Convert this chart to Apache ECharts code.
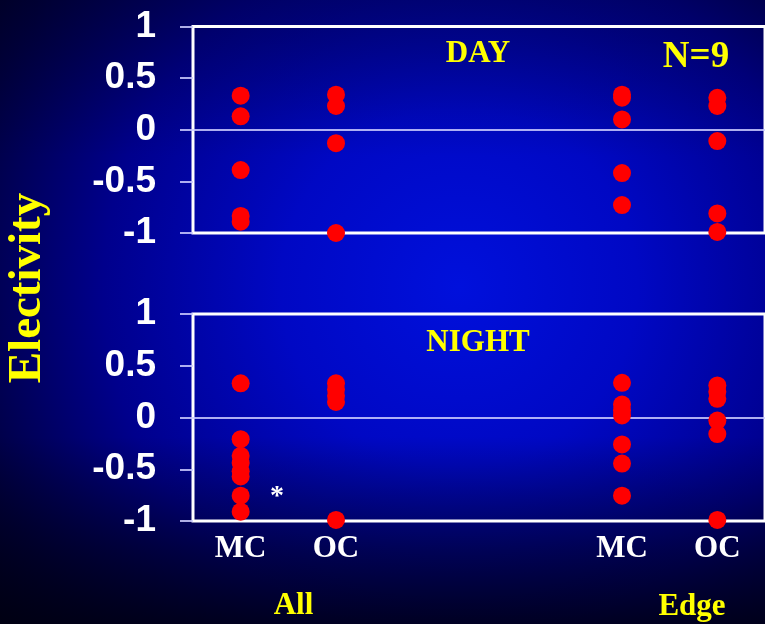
<!DOCTYPE html>
<html>
<head>
<meta charset="utf-8">
<script src="https://cdn.jsdelivr.net/npm/echarts@6/dist/echarts.min.js"></script>
<style>html,body{margin:0;padding:0;background:#000020;}#c{width:765px;height:624px;}</style>
</head>
<body>
<div id="c"></div>
<script>
// Categories along x (two blank slots separate the "All" and "Edge" groups)
const categories = ['MC', 'OC', ' ', '  ', 'MC ', 'OC '];
const yTicks = [-1, -0.5, 0, 0.5, 1];

// DAY electivity values
const dayAllMC  = [0.33, 0.13, -0.39, -0.835, -0.89];
const dayAllOC  = [0.34, 0.23, -0.13, -1.0];
const dayEdgeMC = [0.34, 0.31, 0.10, -0.42, -0.73];
const dayEdgeOC = [0.31, 0.23, -0.11, -0.81, -0.99];

// NIGHT electivity values
const nightAllMC  = [0.33, -0.21, -0.37, -0.44, -0.52, -0.57, -0.755, -0.91];
const nightAllOC  = [0.33, 0.27, 0.21, 0.15, -0.99];
const nightEdgeMC = [0.335, 0.125, 0.07, 0.02, -0.26, -0.445, -0.755];
const nightEdgeOC = [0.31, 0.25, 0.18, -0.03, -0.16, -0.99];

function pts(catIdx, vals) { return vals.map(v => [catIdx, v]); }

const dayData = [].concat(pts(0, dayAllMC), pts(1, dayAllOC), pts(4, dayEdgeMC), pts(5, dayEdgeOC));
const nightData = [].concat(pts(0, nightAllMC), pts(1, nightAllOC), pts(4, nightEdgeMC), pts(5, nightEdgeOC));

const chart = echarts.init(document.getElementById('c'), null, {renderer: 'canvas'});

const lav = 'rgba(205,205,255,0.85)';
function yAxis(gi) {
  return {
    type: 'value', gridIndex: gi, min: -1, max: 1, interval: 0.5,
    axisLine: {show: false},
    axisTick: {show: true, inside: false, length: 13, lineStyle: {color: lav, width: 2}},
    axisLabel: {
      color: '#ffffff', fontFamily: 'Liberation Sans', fontWeight: 'bold', fontSize: 37, margin: 37,
      padding: [3, 0, 0, 0],
      formatter: v => String(v)
    },
    splitLine: {show: true, lineStyle: {color: ['transparent', 'transparent', lav, 'transparent', 'transparent'], width: 2}}
  };
}
function xAxis(gi, showLabels) {
  return {
    type: 'category', gridIndex: gi, data: categories, boundaryGap: true,
    axisLine: {show: false}, axisTick: {show: false}, splitLine: {show: false},
    axisLabel: {
      show: showLabels, color: '#ffffff', fontFamily: 'Liberation Serif', fontWeight: 'bold', fontSize: 31,
      margin: 12, formatter: v => v.trim()
    }
  };
}

const txt = (x, y, text, size, color, extra) => Object.assign({
  type: 'text', x: x, y: y,
  style: {text: text, fill: color, font: 'bold ' + size + 'px "Liberation Serif"', textAlign: 'center', textVerticalAlign: 'middle'}
}, extra || {});

chart.setOption({
  backgroundColor: {
    type: 'radial', x: 0.6, y: 0.46, r: 0.95,
    colorStops: [
      {offset: 0, color: '#0010dc'},
      {offset: 0.3, color: '#0008c4'},
      {offset: 0.6, color: '#00008c'},
      {offset: 0.85, color: '#000040'},
      {offset: 1, color: '#000018'}
    ]
  },
  animation: false,
  grid: [
    {left: 193, top: 26.5, width: 578, height: 206.5, show: true, borderColor: '#ffffff', borderWidth: 3, backgroundColor: 'transparent'},
    {left: 193, top: 314, width: 578, height: 207, show: true, borderColor: '#ffffff', borderWidth: 3, backgroundColor: 'transparent'}
  ],
  xAxis: [xAxis(0, false), xAxis(1, true)],
  yAxis: [yAxis(0), yAxis(1)],
  series: [
    {type: 'scatter', xAxisIndex: 0, yAxisIndex: 0, data: dayData, symbol: 'circle', symbolSize: 18, itemStyle: {color: '#ff0000', opacity: 1}, z: 5},
    {type: 'scatter', xAxisIndex: 1, yAxisIndex: 1, data: nightData, symbol: 'circle', symbolSize: 18, itemStyle: {color: '#ff0000', opacity: 1}, z: 5}
  ],
  graphic: [
    {
      type: 'rect', z: -10, silent: true, shape: {x: 0, y: 0, width: 765, height: 624},
      style: {fill: {type: 'linear', x: 0, y: 0, x2: 0, y2: 1, colorStops: [
        {offset: 0, color: 'rgba(0,0,30,0.35)'},
        {offset: 0.25, color: 'rgba(0,0,30,0)'},
        {offset: 0.7, color: 'rgba(0,0,20,0)'},
        {offset: 0.88, color: 'rgba(0,0,20,0.55)'},
        {offset: 1, color: 'rgba(0,0,16,0.85)'}
      ]}}
    },
    txt(28, 288, 'Electivity', 47, '#ffff00', {rotation: Math.PI / 2}),
    txt(478, 54, 'DAY', 31, '#ffff00'),
    txt(696, 57, 'N=9', 37, '#ffff00'),
    txt(478, 342.5, 'NIGHT', 31, '#ffff00'),
    txt(293.5, 606, 'All', 31, '#ffff00'),
    txt(692, 607, 'Edge', 31, '#ffff00'),
    txt(277, 497, '*', 28, '#ffffff')
  ]
});
</script>
</body>
</html>
